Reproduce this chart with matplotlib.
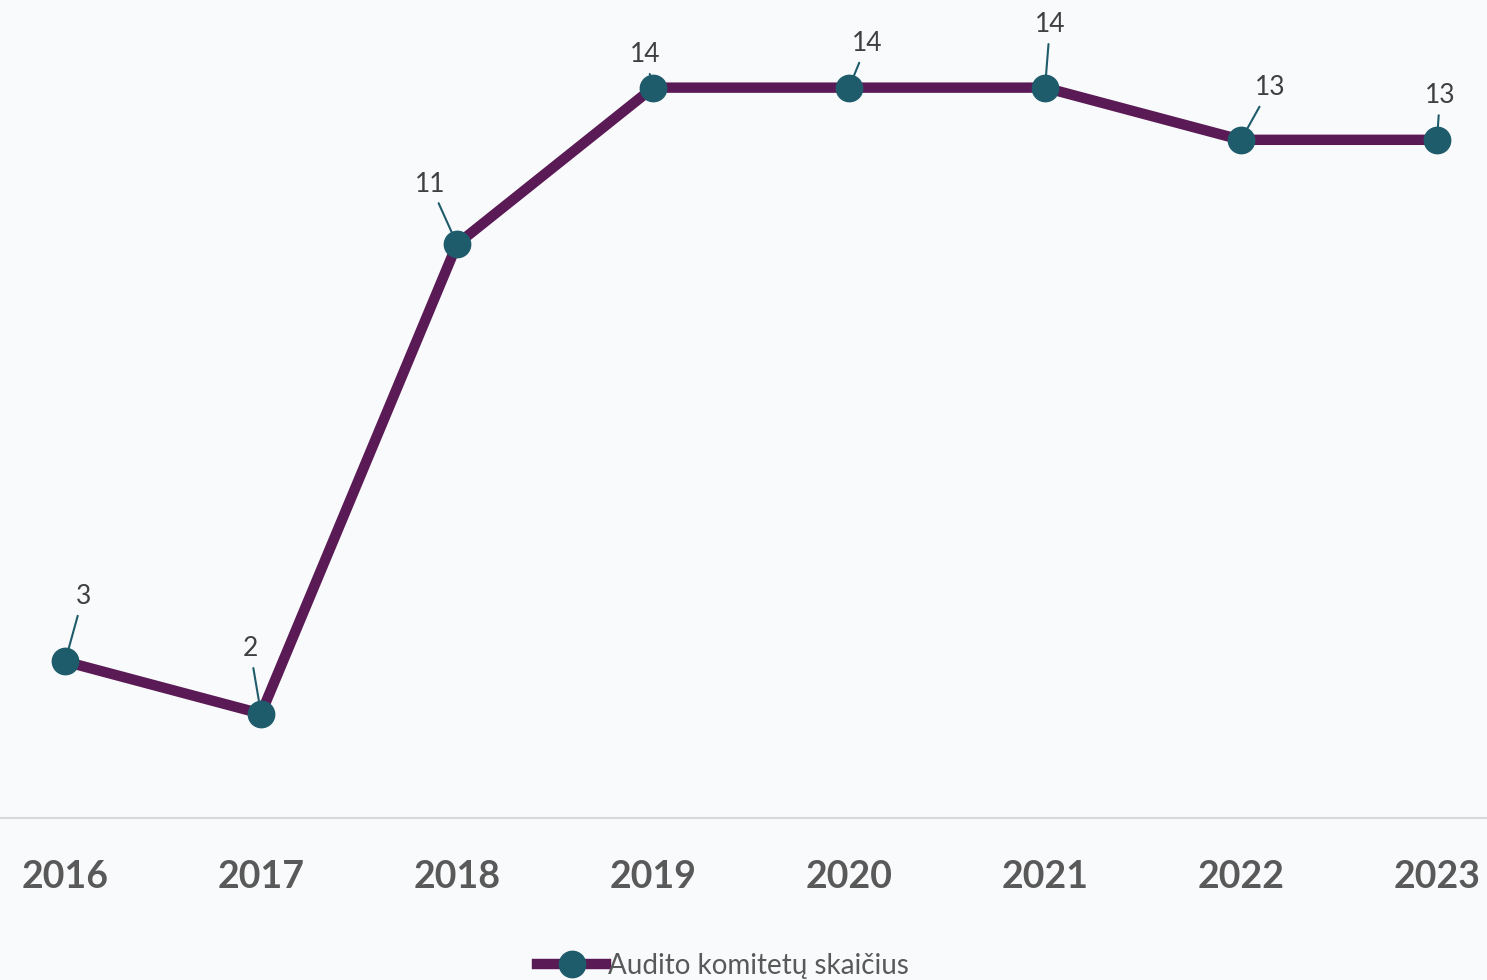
import matplotlib
matplotlib.use('Agg')
import matplotlib.pyplot as plt

years  = ['2016', '2017', '2018', '2019', '2020', '2021', '2022', '2023']
counts = [3, 2, 11, 14, 14, 14, 13, 13]
series_name = 'Audito komitetų skaičius'

# label offsets (pixels) for the data labels with leader lines
label_offsets = [(18, 65), (-11, 65), (-27, 60), (-8, 33), (18, 44), (5, 63), (29, 52), (3, 44)]

line_color   = '#5A1A55'
marker_color = '#1F5C6B'
text_color   = '#404040'
tick_color   = '#595959'

plt.rcParams['font.family'] = ['Lato', 'DejaVu Sans']


def plot_committees():
  fig = plt.figure(figsize=(14.87, 9.8), dpi=100, facecolor='#F9FAFB')
  ax = fig.add_axes([0, 0.1653, 1, 0.8347])
  ax.set_facecolor('none')
  x = list(range(len(years)))
  ax.plot(x, counts, color=line_color, lw=7.5, marker='o', ms=19,
          mfc=marker_color, mec=marker_color, zorder=3, label=series_name)
  for xi, v, (dx, dy) in zip(x, counts, label_offsets):
    ax.annotate(str(v), (xi, v), xytext=(dx, dy), textcoords='offset pixels',
                ha='center', va='center', fontsize=19, color=text_color, zorder=2,
                arrowprops=dict(arrowstyle='-', color=marker_color, lw=1.5,
                                shrinkA=3, shrinkB=0))
  ax.set_xlim(-0.332, 7.255)
  ax.set_ylim(0, 15.68)
  ax.set_xticks(x)
  ax.set_xticklabels(years, fontsize=27, fontweight='bold', color=tick_color)
  ax.tick_params(axis='x', length=0, pad=30)
  ax.set_yticks([])
  for s in ['top', 'left', 'right']:
    ax.spines[s].set_visible(False)
  ax.spines['bottom'].set_color('#D9D9D9')
  ax.spines['bottom'].set_linewidth(1.5)
  leg = fig.legend(loc='lower center', bbox_to_anchor=(0.486, -0.024), frameon=False,
                   fontsize=20, handlelength=2.5, handletextpad=0.05, markerscale=1)
  for t in leg.get_texts():
    t.set_color(tick_color)
  fig.savefig('out.png', dpi=100, facecolor=fig.get_facecolor())


if __name__ == '__main__':
  plot_committees()
